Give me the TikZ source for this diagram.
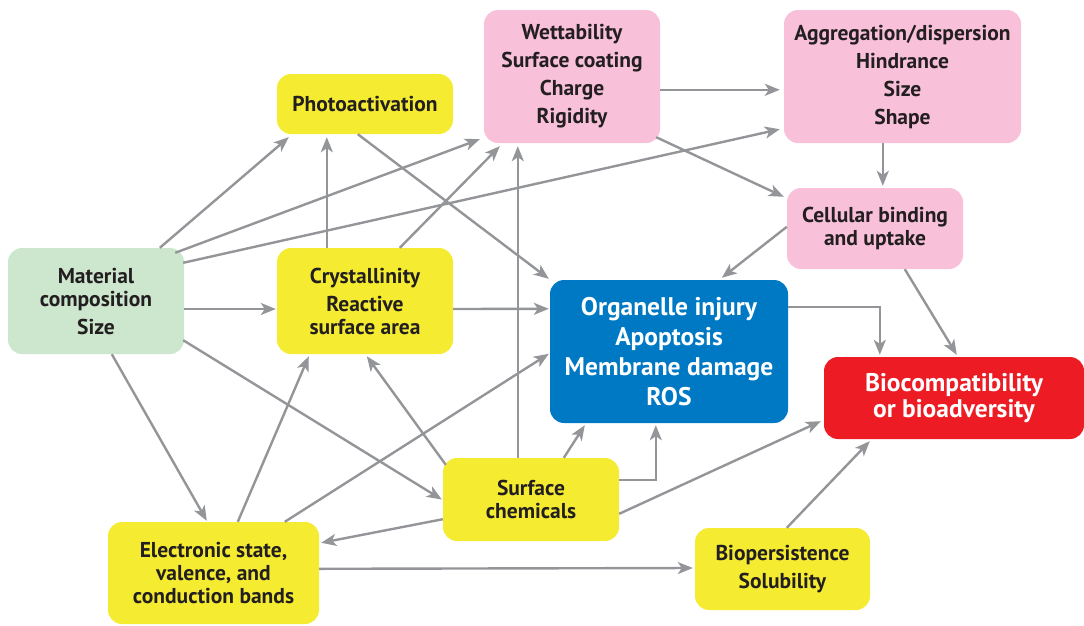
\documentclass[tikz,border=0pt]{standalone}
\usepackage{fontspec}
\setmainfont{PT Sans}
\usetikzlibrary{arrows.meta,calc}
\definecolor{ylw}{RGB}{245,236,50}
\definecolor{pnk}{RGB}{248,192,217}
\definecolor{grn}{RGB}{205,231,206}
\definecolor{blu}{RGB}{0,121,196}
\definecolor{rd}{RGB}{237,28,36}
\definecolor{txt}{RGB}{35,31,32}
\definecolor{arr}{RGB}{147,149,152}
\begin{document}
\begin{tikzpicture}[x=1pt,y=-1pt,
  box/.style={rounded corners=14pt,inner sep=0pt,align=center,text=txt,
    font=\fontsize{21.5}{23}\selectfont\bfseries},
  ybox/.style={box,fill=ylw},
  pbox/.style={box,fill=pnk},
  gbox/.style={box,fill=grn},
  wide/.style={font=\fontsize{21.5}{28}\selectfont\bfseries},
  bigbox/.style={box,text=white,font=\fontsize{25.5}{30}\selectfont\bfseries},
  con/.style={draw=arr,line width=2.4pt,
    -{Stealth[length=15pt,width=12pt,inset=4pt]}}]
\useasboundingbox (0,0) rectangle (1084,625);

\node[gbox,minimum width=176pt,minimum height=106pt] (mat) at (96,301)
  {Material\\composition\\[5pt]Size};
\node[ybox,minimum width=176pt,minimum height=60pt] (photo) at (365,104)
  {Photoactivation};
\node[pbox,wide,minimum width=176pt,minimum height=133pt] (wet) at (572,76.5)
  {Wettability\\Surface coating\\Charge\\Rigidity};
\node[pbox,wide,minimum width=237pt,minimum height=133pt] (agg) at (902.5,76.5)
  {Aggregation/dispersion\\Hindrance\\Size\\Shape};
\node[pbox,minimum width=176pt,minimum height=81pt] (cell) at (875,228.5)
  {Cellular binding\\and uptake};
\node[ybox,minimum width=176pt,minimum height=106pt] (cryst) at (365,301)
  {Crystallinity\\[5pt]Reactive\\surface area};
\node[bigbox,fill=blu,minimum width=238pt,minimum height=143pt] (org) at (669,351.5)
  {Organelle injury\\Apoptosis\\Membrane damage\\ROS};
\node[bigbox,fill=rd,minimum width=260pt,minimum height=82pt,font=\fontsize{25.5}{26}\selectfont\bfseries] (bio) at (954,398)
  {Biocompatibility\\or bioadversity};
\node[ybox,minimum width=176pt,minimum height=83pt] (surf) at (531,499.5)
  {Surface\\chemicals};
\node[ybox,minimum width=211pt,minimum height=102pt] (elec) at (213.5,573)
  {Electronic state,\\valence, and\\conduction bands};
\node[ybox,wide,minimum width=175pt,minimum height=82pt] (biop) at (782.5,569)
  {Biopersistence\\Solubility};

% connectors
\draw[con] ($(mat.north west)+(152,0)$) -- ($(photo.south west)+(12,3)$);
\draw[con] ($(mat.north east)+(-9,5)$) -- ($(wet.south west)+(-4,-4)$);
\draw[con] ($(mat.north east)+(-1,15)$) -- ($(agg.south west)+(-4,-14)$);
\draw[con] ($(mat.east)+(0,8)$) -- ($(cryst.west)+(-1,8)$);
\draw[con] ($(mat.south east)+(-1,-14)$) -- ($(surf.west)+(-1,0)$);
\draw[con] ($(mat.south west)+(104,0)$) -- ($(elec.north west)+(99,-1)$);
\draw[con] ($(cryst.north west)+(50,0)$) -- ($(photo.south west)+(50,3)$);
\draw[con] ($(cryst.north west)+(123,0)$) -- ($(wet.south west)+(16,3)$);
\draw[con] ($(cryst.east)+(0,8)$) -- ($(org.north west)+(-1,29)$);
\draw[con] ($(photo.south west)+(81,0)$) -- ($(org.north west)+(-1,-1)$);
\draw[con] ($(surf.north west)+(75,0)$) -- ($(wet.south west)+(34,3)$);
\draw[con] ($(surf.north west)+(3,7)$) -- ($(cryst.south west)+(90,2)$);
\draw[con] ($(elec.north west)+(130,0)$) -- ($(cryst.south west)+(32,2)$);
\draw[con] ($(elec.north west)+(177,0)$) -- ($(org.north west)+(-1,74)$);
\draw[con] ($(surf.south west)+(0,-22)$) -- ($(elec.north east)+(2,21)$);
\draw[con] ($(elec.north east)+(0,47)$) -- ($(biop.west)+(-2,-1)$);
\draw[con] ($(surf.north west)+(121,0)$) -- ($(org.south west)+(35,2)$);
\draw[con] ($(surf.north east)+(0,22)$) -| ($(org.south west)+(106,2)$);
\draw[con] ($(surf.north east)+(0,56)$) -- ($(bio.south west)+(-3,-18)$);
\draw[con] ($(biop.north west)+(92,0)$) -- ($(bio.south west)+(46,2)$);
\draw[con] ($(org.north east)+(0,27)$) -| ($(bio.north west)+(56,-2)$);
\draw[con] ($(cell.south west)+(118,0)$) -- ($(bio.north west)+(133,-2)$);
\draw[con] ($(agg.south west)+(99,0)$) -- ($(cell.north west)+(96,-2)$);
\draw[con] ($(wet.north east)+(0,80)$) -- ($(agg.north west)+(-4,80)$);
\draw[con] ($(wet.south east)+(-4,-6)$) -- ($(cell.north west)+(-3,9)$);
\draw[con] ($(cell.north west)+(0,39)$) -- ($(org.north west)+(172,-2)$);
\end{tikzpicture}
\end{document}
